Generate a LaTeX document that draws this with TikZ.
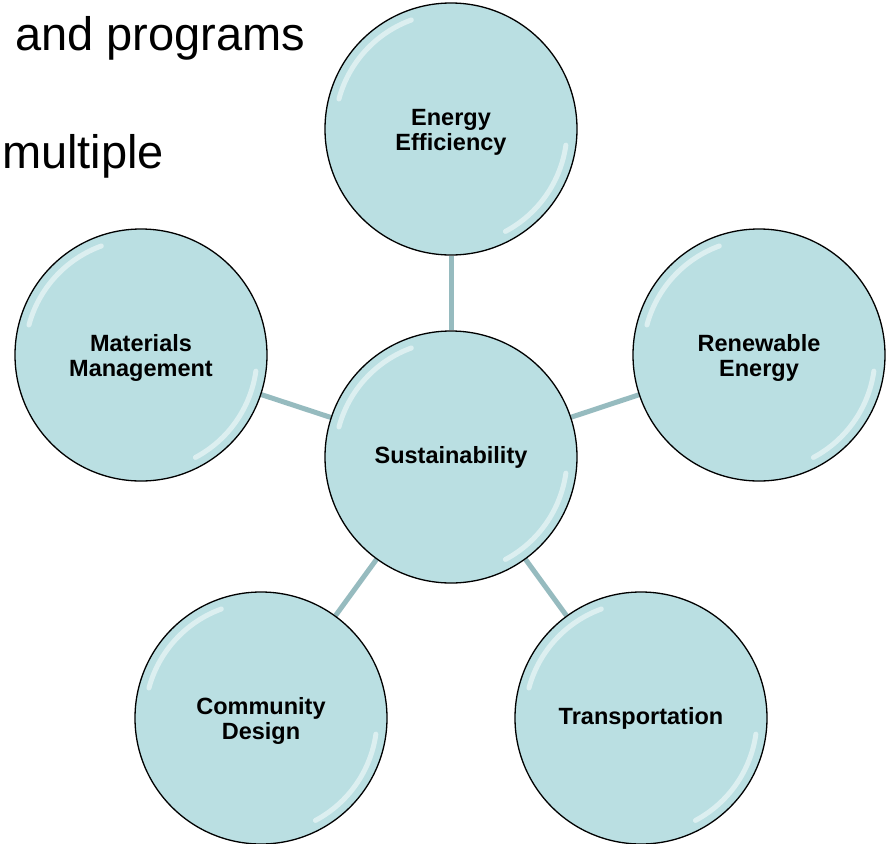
\documentclass[tikz,border=0pt]{standalone}
\usepackage{fontspec}
\setmainfont{Liberation Sans}
\usetikzlibrary{backgrounds}
\newcommand{\twoline}[2]{\raisebox{-4pt}[\height][\depth]{\begin{tabular}{@{}c@{}}#1\\#2\end{tabular}}}
\begin{document}
\begin{tikzpicture}[x=1pt,y=-1pt]
\definecolor{bubblefill}{HTML}{BADFE2}
\definecolor{linkcol}{HTML}{96BBBF}
\tikzset{
 bubble/.style={circle, draw=black, line width=1.3pt, fill=bubblefill, minimum size=252pt, inner sep=0pt, align=center, font=\fontsize{23.5}{25}\selectfont\bfseries},
 linkline/.style={draw=linkcol, line width=5pt},
 gloss/.style={draw=white, line width=5pt, line cap=round, opacity=0.5},
 bigtext/.style={anchor=base west, inner sep=0pt, font=\fontsize{47}{56}\selectfont}
}
\useasboundingbox (0,0) rectangle (887,844);
\clip (0,0) rectangle (887,844);
\node[bigtext] (t1) at (15,50) {and programs};
\node[bigtext] (t2) at (2,168) {multiple};
\node[bubble] (c) at (451,457) {Sustainability};
\node[bubble] (ee) at (451,129) {\twoline{Energy}{Efficiency}};
\node[bubble] (re) at (759,355) {\twoline{Renewable}{Energy}};
\node[bubble] (mm) at (141,355) {\twoline{Materials}{Management}};
\node[bubble] (cd) at (261,718) {\twoline{Community}{Design}};
\node[bubble] (tr) at (641,718) {Transportation};
\foreach \n in {c,ee,re,mm,cd,tr}{
  \draw[gloss] ([shift={(195:116)}]\n.center) arc[start angle=195, end angle=250, radius=116];
  \draw[gloss] ([shift={(8:116)}]\n.center) arc[start angle=8, end angle=62, radius=116];
}
\begin{scope}[on background layer]
\draw[linkline] (c) -- (ee);
\draw[linkline] (c) -- (re);
\draw[linkline] (c) -- (mm);
\draw[linkline] (c) -- (cd);
\draw[linkline] (c) -- (tr);
\end{scope}
\end{tikzpicture}
\end{document}
